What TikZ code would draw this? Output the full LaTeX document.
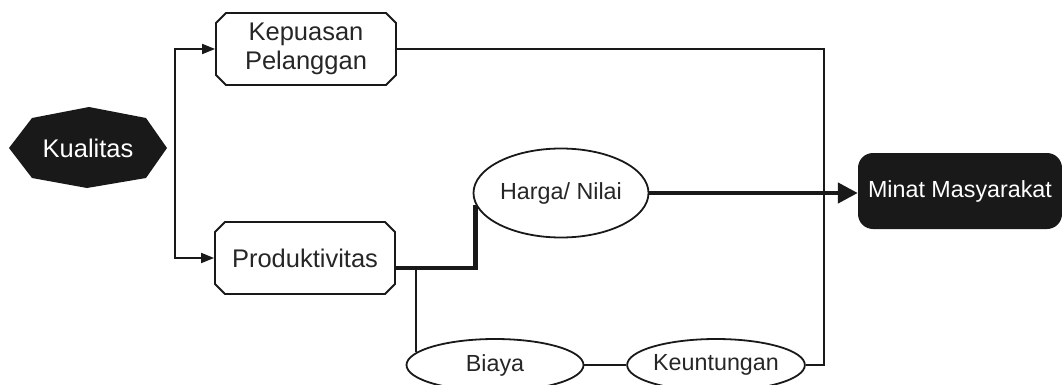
\documentclass[tikz,border=0pt]{standalone}
\usepackage{fontspec}
\setmainfont{Liberation Sans}
\usepackage{tikz}
\usetikzlibrary{shapes.geometric,shapes.misc,arrows.meta}

\tikzset{
  boxnode/.style={draw=black!90, line width=1.8pt, chamfered rectangle,
    chamfered rectangle xsep=5pt, chamfered rectangle ysep=5pt,
    minimum width=180pt, minimum height=72pt, inner sep=0pt, align=center,
    text=black!85, font=\fontsize{25.5}{29}\selectfont},
  ovalnode/.style={draw=black!90, line width=1.8pt, ellipse, inner sep=0pt,
    text=black!85, font=\fontsize{23.3}{27}\selectfont},
  thinarrow/.style={line width=1.8pt, draw=black!90,
    -{Triangle[length=13pt,width=10pt]}},
  thinline/.style={line width=1.8pt, draw=black!90},
  thickline/.style={line width=4.5pt, draw=black!90}
}

\begin{document}
\begin{tikzpicture}[x=1pt,y=-1pt]
\useasboundingbox (0,0) rectangle (1062,385);
% Kualitas
\fill [black!90] (9,148) -- (32,118) -- (89,107) -- (146,118) -- (167,148)
  -- (146,178) -- (87,188) -- (32,178) -- cycle;
\node [text=white, font=\fontsize{25.5}{29}\selectfont] (kual) at (88,148) {Kualitas};
\coordinate (fork) at (175,148);
% boxes
\node [boxnode] (kepuasan) at (306,49) {Kepuasan\\Pelanggan};
\node [boxnode] (produk) at (305,258) {Produktivitas};
% ovals
\node [ovalnode, minimum width=175pt, minimum height=89pt] (harga) at (561,193) {Harga/ Nilai};
\node [ovalnode, minimum width=177pt, minimum height=52pt] (biaya) at (495,365) {Biaya};
\node [ovalnode, minimum width=176pt, minimum height=52pt] (untung) at (716,365) {Keuntungan};
% Minat Masyarakat
\node [fill=black!90, rounded corners=15pt, minimum width=204pt, minimum height=76pt,
  text=white, font=\fontsize{23.3}{27}\selectfont] (minat) at (960,191) {Minat Masyarakat};
% connectors
\draw [thinarrow] (fork) |- (kepuasan);
\draw [thinarrow] (fork) |- (produk);
\coordinate (prodout) at ([yshift=-10pt]produk.east);
\draw [thickline] (prodout) -| (harga.188);
\draw [thinline] (biaya.171) -- (biaya.171 |- prodout);
\draw [thinline] (biaya) -- (untung);
\coordinate (rjoin) at (824,365);
\draw [thinline] (kepuasan) -| (rjoin) -- (untung.east);
\draw [thickline, -{Triangle[length=20pt,width=20pt]}] (harga.east) -- (harga.east -| minat.west);
\end{tikzpicture}
\end{document}
